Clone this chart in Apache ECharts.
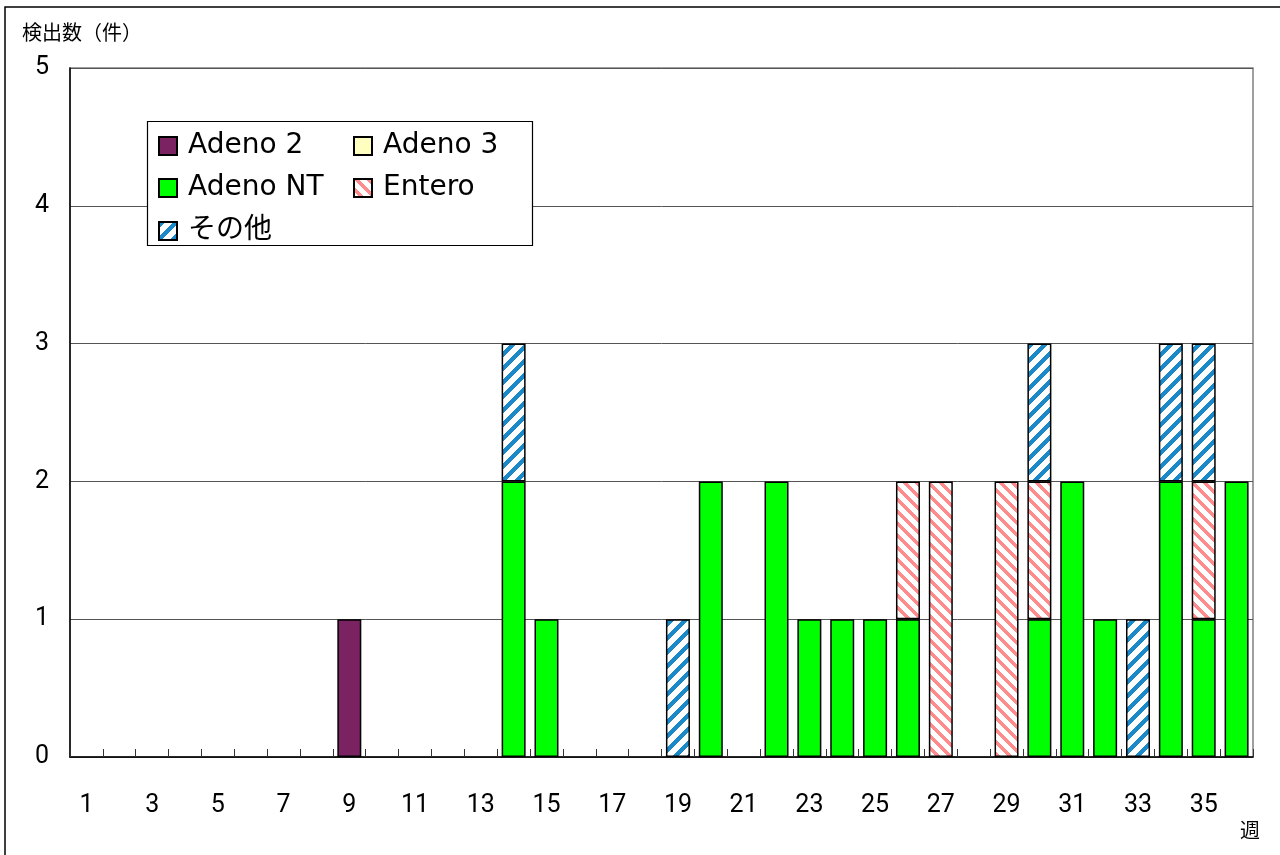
<!DOCTYPE html>
<html>
<head>
<meta charset="utf-8">
<script src="https://cdn.jsdelivr.net/npm/echarts@6/dist/echarts.min.js"></script>
<style>html,body{margin:0;padding:0;background:#fff}#c{width:1280px;height:855px}</style>
</head>
<body>
<div id="c"></div>
<script>
// Weeks 1..36
const weeks = ['1','2','3','4','5','6','7','8','9','10','11','12','13','14','15','16','17','18','19','20','21','22','23','24','25','26','27','28','29','30','31','32','33','34','35','36'];
const seriesNames = ['Adeno 2','Adeno 3','Adeno NT','Entero','その他'];
//                 1 2 3 4 5 6 7 8 9 10 11 12 13 14 15 16 17 18 19 20 21 22 23 24 25 26 27 28 29 30 31 32 33 34 35 36
const adeno2   = [0,0,0,0,0,0,0,0,1, 0, 0, 0, 0, 0, 0, 0, 0, 0, 0, 0, 0, 0, 0, 0, 0, 0, 0, 0, 0, 0, 0, 0, 0, 0, 0, 0];
const adeno3   = [0,0,0,0,0,0,0,0,0, 0, 0, 0, 0, 0, 0, 0, 0, 0, 0, 0, 0, 0, 0, 0, 0, 0, 0, 0, 0, 0, 0, 0, 0, 0, 0, 0];
const adenoNT  = [0,0,0,0,0,0,0,0,0, 0, 0, 0, 0, 2, 1, 0, 0, 0, 0, 2, 0, 2, 1, 1, 1, 1, 0, 0, 0, 1, 2, 1, 0, 2, 1, 2];
const entero   = [0,0,0,0,0,0,0,0,0, 0, 0, 0, 0, 0, 0, 0, 0, 0, 0, 0, 0, 0, 0, 0, 0, 1, 2, 0, 2, 1, 0, 0, 0, 0, 1, 0];
const other    = [0,0,0,0,0,0,0,0,0, 0, 0, 0, 0, 1, 0, 0, 0, 0, 1, 0, 0, 0, 0, 0, 0, 0, 0, 0, 0, 1, 0, 0, 1, 1, 1, 0];
const yTicks = [0,1,2,3,4,5];

// Pixel-exact seamless diagonal stripe tile
function hatch(rgb, dir, P, w) {
  const c = document.createElement('canvas');
  c.width = P; c.height = P;
  const g = c.getContext('2d');
  const img = g.createImageData(P, P);
  for (let y = 0; y < P; y++) {
    for (let x = 0; x < P; x++) {
      const t = dir === '/' ? ((x + y) % P) : (((x - y) % P) + P) % P;
      const on = t < w;
      const i = (y * P + x) * 4;
      img.data[i]   = on ? rgb[0] : 255;
      img.data[i+1] = on ? rgb[1] : 255;
      img.data[i+2] = on ? rgb[2] : 255;
      img.data[i+3] = 255;
    }
  }
  g.putImageData(img, 0, 0);
  return { image: c, repeat: 'repeat' };
}

const colors = ['#7b2262', '#ffffc0', '#00ff00', hatch([255,140,140], '\\', 12, 5), hatch([27,136,200], '/', 14, 6)];
const dataList = [adeno2, adeno3, adenoNT, entero, other];

const chart = echarts.init(document.getElementById('c'));
const legendFont = { fontFamily: 'DejaVu Sans, "Noto Sans CJK JP", sans-serif', fontSize: 28, color: '#000', padding: [0,0,0,6] };
const legendPos = [[158,132],[353,132],[158,174],[353,174],[158,217]];

const option = {
  backgroundColor: '#fff',
  animation: false,
  grid: { left: 70, right: 27, top: 68, bottom: 98, show: true, borderColor: '#808080', borderWidth: 1.5, backgroundColor: 'transparent' },
  legend: seriesNames.map((n, i) => ({
    data: [n], left: legendPos[i][0], top: legendPos[i][1], padding: 0,
    itemWidth: 18, itemHeight: 18, icon: 'rect', selectedMode: false,
    textStyle: legendFont
  })),
  graphic: [
    { type: 'rect', shape: { x: 5, y: 7, width: 1290, height: 870 }, style: { fill: 'none', stroke: '#000', lineWidth: 1.5 }, z: 100 },
    { type: 'rect', shape: { x: 147.5, y: 121.5, width: 385, height: 124 }, style: { fill: '#fff', stroke: '#000', lineWidth: 1.2 }, z: 1 },
    { type: 'text', left: 22, top: 22, style: { text: '検出数（件）', font: '20px "Noto Sans CJK JP"', fill: '#000' } },
    { type: 'text', left: 1240, top: 820, style: { text: '週', font: '20px "Noto Sans CJK JP"', fill: '#000' } }
  ],
  xAxis: {
    type: 'category', data: weeks,
    axisLine: { lineStyle: { color: '#000', width: 1.5 } },
    axisTick: { show: true, inside: true, length: 8, interval: 0, alignWithLabel: false, lineStyle: { color: '#333', width: 1 } },
    axisLabel: { interval: 1, margin: 36, fontSize: 25, color: '#000', fontFamily: 'Roboto, sans-serif' },
    splitLine: { show: false }
  },
  yAxis: {
    type: 'value', min: 0, max: 5, interval: 1,
    axisLine: { show: true, lineStyle: { color: '#000', width: 1.5 } },
    axisTick: { show: false },
    axisLabel: { margin: 21, fontSize: 25, color: '#000', fontFamily: 'Roboto, sans-serif',
      formatter: v => yTicks.includes(v) ? String(v) : '' },
    splitLine: { show: true, lineStyle: { color: '#555', width: 1 } }
  },
  series: seriesNames.map((n, i) => ({
    name: n, type: 'bar', stack: 'total', barWidth: '73%',
    data: dataList[i].map(v => v === 0 ? '-' : v),
    itemStyle: { color: colors[i], borderColor: '#000', borderWidth: 1.5 },
    z: 3
  }))
};
chart.setOption(option);
</script>
</body>
</html>
